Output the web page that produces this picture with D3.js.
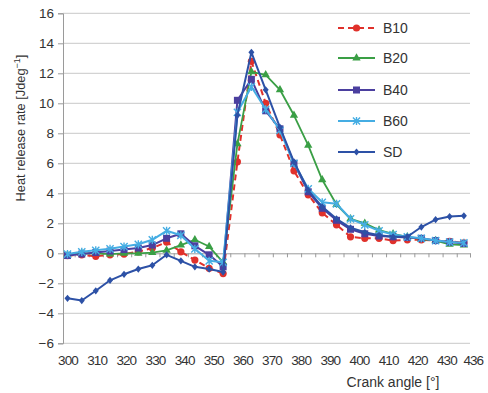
<!DOCTYPE html>
<html>
<head>
<meta charset="utf-8">
<script src="https://cdn.jsdelivr.net/npm/d3@7"></script>
<style>
  body { margin: 0; background: #fff; }
  svg { display: block; font-family: "Liberation Sans", Arial, sans-serif; }
</style>
</head>
<body>
<svg id="chart" width="488" height="393"></svg>
<script>
// Crank angle of each sample [°]
const crankAngle = [300.0, 304.9, 309.7, 314.6, 319.4, 324.3, 329.1, 334.0, 338.9, 343.7,
                    348.6, 353.4, 358.3, 363.1, 368.0, 372.9, 377.7, 382.6, 387.4, 392.3,
                    397.1, 402.0, 406.9, 411.7, 416.6, 421.4, 426.3, 431.1, 436.0];

// Heat release rate [J/deg] per fuel
const b10 = [-0.15, -0.1, -0.2, -0.1, -0.05, 0.1, 0.35, 0.75, 0.1, -0.45, -1.0, -1.35,
             6.1, 12.8, 10.0, 7.9, 5.5, 3.9, 2.7, 1.9, 1.1, 1.0, 1.0, 0.85, 0.9, 0.9, 0.85, 0.8, 0.7];
const b20 = [-0.1, 0.0, 0.0, -0.05, 0.0, 0.0, 0.05, 0.2, 0.55, 0.9, 0.45, -0.6,
             7.3, 12.1, 11.9, 10.9, 9.2, 7.2, 4.9, 3.25, 2.3, 2.0, 1.55, 1.3, 1.1, 0.95, 0.85, 0.6, 0.55];
const b40 = [-0.15, -0.05, 0.05, 0.15, 0.25, 0.35, 0.55, 1.0, 1.3, 0.5, -0.1, -0.9,
             10.2, 11.6, 9.5, 8.3, 6.0, 4.1, 3.0, 2.2, 1.6, 1.3, 1.15, 1.1, 1.05, 1.0, 0.85, 0.75, 0.65];
const b60 = [-0.05, 0.1, 0.2, 0.3, 0.45, 0.6, 0.9, 1.5, 1.2, 0.3, -0.5, -0.6,
             9.4, 11.1, 9.6, 8.2, 6.0, 4.3, 3.4, 3.3, 2.3, 1.9, 1.5, 1.25, 1.1, 1.0, 0.85, 0.75, 0.7];
const sd  = [-3.0, -3.15, -2.5, -1.8, -1.4, -1.05, -0.8, -0.1, -0.5, -0.9, -1.05, -1.25,
             9.2, 13.4, 10.9, 8.4, 6.1, 4.2, 3.1, 2.3, 1.7, 1.4, 1.2, 1.1, 1.1, 1.75, 2.25, 2.45, 2.5];

const seriesNames = ["B10", "B20", "B40", "B60", "SD"];
const xTickValues = [300, 310, 320, 330, 340, 350, 360, 370, 380, 390, 400, 410, 420, 430, 436];
const yTickValues = [-6, -4, -2, 0, 2, 4, 6, 8, 10, 12, 14, 16];

const series = [
  { name: seriesNames[0], values: b10, color: "#e0312b", marker: "circle",   dash: "6,4", width: 2 },
  { name: seriesNames[1], values: b20, color: "#3a9f45", marker: "triangle", dash: null,  width: 1.8 },
  { name: seriesNames[2], values: b40, color: "#4b3f9f", marker: "square",   dash: null,  width: 2 },
  { name: seriesNames[3], values: b60, color: "#45ade3", marker: "star",     dash: null,  width: 2 },
  { name: seriesNames[4], values: sd,  color: "#2d51a6", marker: "diamond",  dash: null,  width: 2 }
];

const svg = d3.select("#chart");
const plotLeft = 63, plotRight = 470, plotTop = 13.3, plotBottom = 343.3;

const x = d3.scaleLinear().domain([298.46, 438.1]).range([plotLeft, plotRight]);
const y = d3.scaleLinear().domain([-6, 16]).range([plotBottom, plotTop]);

// horizontal gridlines
svg.append("g")
  .selectAll("line")
  .data(yTickValues.filter(v => v !== 0))
  .join("line")
  .attr("x1", plotLeft).attr("x2", plotRight)
  .attr("y1", d => y(d)).attr("y2", d => y(d))
  .attr("stroke", "#c9c9c9").attr("stroke-width", 1);

// vertical value axis
const yAxis = d3.axisLeft(y).tickValues(yTickValues).tickSize(5).tickPadding(4)
  .tickFormat(d => d < 0 ? "\u2212" + Math.abs(d) : String(d));
const gy = svg.append("g").attr("transform", `translate(${plotLeft},0)`).call(yAxis);
gy.select(".domain").attr("stroke", "#9a9a9a");
gy.selectAll(".tick line").attr("stroke", "#9a9a9a");
gy.selectAll(".tick text").attr("fill", "#333").attr("font-size", 13.5)
  .attr("font-family", "Liberation Sans, Arial, sans-serif");

// horizontal axis line at zero with ticks between samples
const tickAngles = [x.domain()[0]];
for (let i = 0; i < crankAngle.length - 1; i++) tickAngles.push((crankAngle[i] + crankAngle[i + 1]) / 2);
tickAngles.push(x.domain()[1]);
const zeroAxis = d3.axisBottom(x).tickValues(tickAngles).tickSize(4).tickFormat("");
const gz = svg.append("g").attr("transform", `translate(0,${y(0)})`).call(zeroAxis);
gz.select(".domain").attr("stroke", "#9a9a9a");
gz.selectAll(".tick line").attr("stroke", "#9a9a9a");

// crank angle labels along the bottom
const labelAxis = d3.axisBottom(x).tickValues(xTickValues).tickSize(0).tickPadding(12)
  .tickFormat(d3.format("d"));
const gx = svg.append("g").attr("transform", `translate(0,${plotBottom})`).call(labelAxis);
gx.select(".domain").remove();
gx.selectAll(".tick text").attr("fill", "#333").attr("font-size", 13.5)
  .attr("letter-spacing", "-0.9px")
  .attr("font-family", "Liberation Sans, Arial, sans-serif");
gx.selectAll(".tick").filter(d => d === 436).select("text").attr("text-anchor", "start").attr("dx", -1);

// axis titles
svg.append("text")
  .attr("x", 393).attr("y", 387)
  .attr("text-anchor", "middle").attr("font-size", 14).attr("fill", "#333")
  .text("Crank angle [°]");

const yTitle = svg.append("text")
  .attr("transform", "translate(25,128) rotate(-90)")
  .attr("text-anchor", "middle").attr("font-size", 12.8).attr("fill", "#333");
yTitle.append("tspan").text("Heat release rate [Jdeg");
yTitle.append("tspan").attr("dy", -5).attr("font-size", 9).text("\u22121");
yTitle.append("tspan").attr("dy", 5).text("]");

// marker shapes
function drawMarker(g, type, color, cx, cy) {
  if (type === "circle") {
    g.append("circle").attr("cx", cx).attr("cy", cy).attr("r", 3.6).attr("fill", color);
  } else if (type === "triangle") {
    g.append("path").attr("d", d3.symbol(d3.symbolTriangle, 30)()).attr("transform", `translate(${cx},${cy})`).attr("fill", color);
  } else if (type === "square") {
    g.append("rect").attr("x", cx - 3.5).attr("y", cy - 3.5).attr("width", 7).attr("height", 7).attr("fill", color);
  } else if (type === "diamond") {
    g.append("path").attr("d", `M${cx},${cy - 3.6}L${cx + 3},${cy}L${cx},${cy + 3.6}L${cx - 3},${cy}Z`).attr("fill", color);
  } else if (type === "star") {
    const s = 3.6;
    g.append("path")
      .attr("d", `M${cx - s},${cy - s}L${cx + s},${cy + s}M${cx - s},${cy + s}L${cx + s},${cy - s}M${cx},${cy - s - 0.5}L${cx},${cy + s + 0.5}`)
      .attr("stroke", color).attr("stroke-width", 1.4).attr("fill", "none");
  }
}

// series lines and markers
const line = d3.line().x((d, i) => x(crankAngle[i])).y(d => y(d));
series.forEach(s => {
  const g = svg.append("g");
  g.append("path").datum(s.values)
    .attr("d", line)
    .attr("fill", "none").attr("stroke", s.color).attr("stroke-width", s.width)
    .attr("stroke-linejoin", "round")
    .attr("stroke-dasharray", s.dash);
  s.values.forEach((v, i) => drawMarker(g, s.marker, s.color, x(crankAngle[i]), y(v)));
});

// legend
const legendRows = [28, 58, 90, 121, 152];
series.forEach((s, i) => {
  const g = svg.append("g");
  const ly = legendRows[i];
  g.append("line").attr("x1", 338).attr("x2", 375).attr("y1", ly).attr("y2", ly)
    .attr("stroke", s.color).attr("stroke-width", s.width).attr("stroke-dasharray", s.dash);
  drawMarker(g, s.marker, s.color, 356.5, ly);
  g.append("text").attr("x", 383).attr("y", ly + 5).attr("font-size", 14).attr("fill", "#333").text(s.name);
});
</script>
</body>
</html>
